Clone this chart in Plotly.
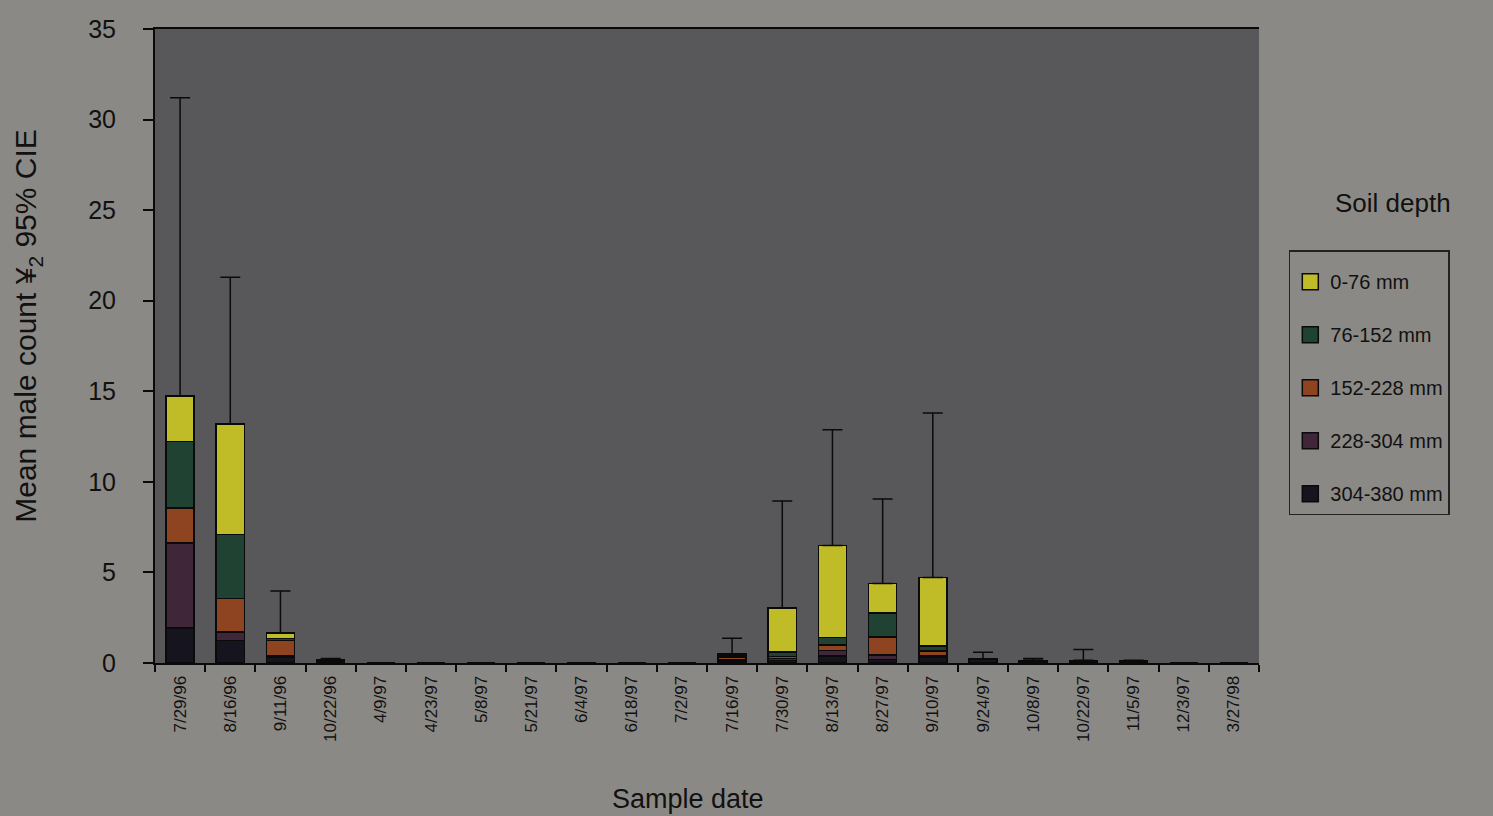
import plotly.graph_objects as go

dates = ["7/29/96", "8/16/96", "9/11/96", "10/22/96", "4/9/97", "4/23/97", "5/8/97",
         "5/21/97", "6/4/97", "6/18/97", "7/2/97", "7/16/97", "7/30/97", "8/13/97",
         "8/27/97", "9/10/97", "9/24/97", "10/8/97", "10/22/97", "11/5/97", "12/3/97", "3/27/98"]

d304_380 = [1.93, 1.25, 0.30, 0.08, 0, 0, 0, 0, 0, 0, 0, 0.10, 0.15, 0.40, 0.20, 0.30, 0.20, 0.08, 0.05, 0.05, 0, 0]
d228_304 = [4.70, 0.45, 0.10, 0.03, 0, 0, 0, 0, 0, 0, 0, 0.10, 0.10, 0.30, 0.24, 0.10, 0.03, 0.03, 0.03, 0.02, 0, 0]
d152_228 = [1.93, 1.85, 0.85, 0.02, 0, 0, 0, 0, 0, 0, 0, 0.10, 0.10, 0.30, 1.00, 0.25, 0, 0.02, 0.02, 0.02, 0, 0]
d76_152 = [3.66, 3.55, 0.10, 0.02, 0, 0, 0, 0, 0, 0, 0, 0.10, 0.27, 0.40, 1.33, 0.30, 0, 0.02, 0.03, 0.02, 0, 0]
d0_76 = [2.52, 6.10, 0.30, 0.02, 0, 0, 0, 0, 0, 0, 0, 0.10, 2.43, 5.08, 1.62, 3.77, 0, 0, 0.02, 0.01, 0, 0]
upper_ci = [31.2, 21.3, 3.98, 0.25, 0, 0, 0, 0, 0, 0, 0, 1.37, 8.95, 12.87, 9.06, 13.8, 0.6, 0.25, 0.75, 0.15, 0, 0]

series = [
    ("304-380 mm", d304_380, "#16141e"),
    ("228-304 mm", d228_304, "#3f2639"),
    ("152-228 mm", d152_228, "#8e4420"),
    ("76-152 mm", d76_152, "#1f4233"),
    ("0-76 mm", d0_76, "#c0bc28"),
]

FONT = "Liberation Sans, Arial, sans-serif"
fig = go.Figure()

for name, vals, col in series:
    fig.add_trace(go.Bar(
        x=dates, y=vals, name=name, width=0.56,
        marker=dict(color=col, line=dict(color="#0a0a0a", width=1.5)),
        showlegend=False,
    ))

totals = [sum(v) for v in zip(d304_380, d228_304, d152_228, d76_152, d0_76)]
err_plus = [max(c - t, 0) for c, t in zip(upper_ci, totals)]
fig.add_trace(go.Scatter(
    x=dates, y=totals, mode="markers", marker=dict(size=1, opacity=0),
    error_y=dict(type="data", symmetric=False, array=err_plus,
                 arrayminus=[0] * len(dates), color="#0a0a0a", thickness=1.5, width=10),
    showlegend=False, hoverinfo="skip",
))

for name, vals, col in reversed(series):
    fig.add_trace(go.Scatter(
        x=[None], y=[None], mode="markers", name=name, legendgroup=name,
        marker=dict(symbol="square", size=16, color=col, line=dict(color="#0a0a0a", width=1.5)),
    ))

fig.update_layout(
    width=1493, height=816,
    barmode="stack",
    paper_bgcolor="#8b8986",
    plot_bgcolor="#58585a",
    margin=dict(l=155, r=234, t=29, b=153),
    font=dict(family=FONT, color="#111111"),
    legend=dict(
        x=1.027, y=0.651, xanchor="left", yanchor="top",
        bgcolor="#8b8986", bordercolor="#222222", borderwidth=1.5,
        font=dict(size=20, family=FONT, color="#111111"),
        traceorder="grouped", tracegroupgap=24,
        title=dict(text=" ", font=dict(size=8)),
    ),
    xaxis=dict(
        type="category", range=[-0.5, 21.5], tickangle=-90, tickfont=dict(size=17),
        showline=True, linecolor="#0a0a0a", linewidth=2, mirror=True,
        ticks="outside", ticklen=7, tickcolor="#0a0a0a", tickwidth=2,
        tickson="boundaries", showgrid=False, ticklabelstandoff=4,
    ),
    yaxis=dict(
        range=[0, 35], dtick=5, tickfont=dict(size=25),
        showline=True, linecolor="#0a0a0a", linewidth=2,
        ticks="outside", ticklen=10, tickcolor="#0a0a0a", tickwidth=2,
        showgrid=False, zeroline=False, ticklabelstandoff=22,
    ),
    annotations=[
        dict(text="Mean male count ¥<sub>2</sub> 95% CIE", textangle=-90,
             xref="paper", yref="paper", x=-0.115, y=0.532, xanchor="center", yanchor="middle",
             showarrow=False, font=dict(size=30, family=FONT, color="#111111")),
        dict(text="Sample date", xref="paper", yref="paper", x=0.4825, y=-0.215,
             xanchor="center", yanchor="middle", showarrow=False,
             font=dict(size=27, family=FONT, color="#111111")),
        dict(text="Soil depth", xref="paper", yref="paper", x=1.121, y=0.725,
             xanchor="center", yanchor="middle", showarrow=False,
             font=dict(size=26, family=FONT, color="#111111")),
    ],
)

fig.write_html("out.html")
